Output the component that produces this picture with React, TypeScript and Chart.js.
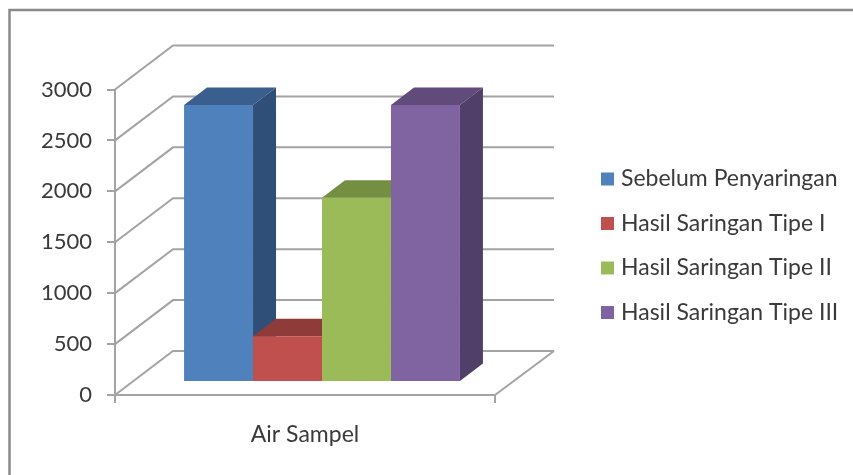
import React, { useEffect, useRef } from "react";
import { Chart, registerables } from "chart.js";

Chart.register(...registerables);

const categories = ["Air Sampel"];
const seriesNames = [
  "Sebelum Penyaringan",
  "Hasil Saringan Tipe I",
  "Hasil Saringan Tipe II",
  "Hasil Saringan Tipe III",
];
const sebelumPenyaringan = [2720];
const saringanTipeI = [450];
const saringanTipeII = [1810];
const saringanTipeIII = [2720];
const seriesValues = [sebelumPenyaringan, saringanTipeI, saringanTipeII, saringanTipeIII];

const frontColors = ["#4F81BD", "#C0504D", "#9BBB59", "#8064A2"];
const topColors = ["#3A5F8E", "#8F3B39", "#748E42", "#604B7A"];
const sideColors = ["#2F4F78", "#7A3230", "#627A38", "#503F68"];

const LINE = "#a3a3a3";
const TEXT = "#3a3a3a";
const AXIS_FONT = { family: "Lato", size: 22 };
const LABEL_FONT = { family: "Lato", size: 23 };

// Depth of the floor and walls behind the front axis plane
const WALL_DX = 58;
const WALL_DY = 44;
// Where the bars stand on the floor, and how deep they are
const BAR_SHIFT_X = 17;
const BAR_SHIFT_Y = 13;
const BAR_DX = 23;
const BAR_DY = 17.5;

const polygon = (ctx: CanvasRenderingContext2D, pts: number[][], fill?: string) => {
  ctx.beginPath();
  pts.forEach(([x, y], i) => (i ? ctx.lineTo(x, y) : ctx.moveTo(x, y)));
  if (fill) {
    ctx.fillStyle = fill;
    ctx.fill();
  } else {
    ctx.stroke();
  }
};

const frame = {
  id: "frame",
  beforeDraw(chart: any) {
    const { ctx, width, height } = chart;
    ctx.save();
    ctx.strokeStyle = "#8a8a8a";
    ctx.lineWidth = 2.5;
    polygon(ctx, [[9.5, height], [9.5, 10], [width, 10]]);
    ctx.restore();
  },
};

const walls = {
  id: "walls",
  beforeDatasetsDraw(chart: any) {
    const { ctx, chartArea, scales } = chart;
    const { left, right } = chartArea;
    const yScale = scales.y;
    ctx.save();
    ctx.strokeStyle = LINE;
    ctx.lineWidth = 2;
    yScale.ticks.forEach((tick: any) => {
      const y = yScale.getPixelForValue(tick.value);
      polygon(ctx, [
        [left, y],
        [left + WALL_DX, y - WALL_DY],
        [right + WALL_DX + 1, y - WALL_DY],
      ]);
    });
    const floor = yScale.getPixelForValue(0);
    polygon(ctx, [
      [right, floor],
      [right + WALL_DX + 1, floor - WALL_DY],
    ]);
    ctx.restore();
  },
};

// Side and top faces go under every front face; the fronts come from the bar elements.
const barDepth = {
  id: "barDepth",
  beforeDatasetsDraw(chart: any) {
    const { ctx } = chart;
    ctx.save();
    ctx.translate(BAR_SHIFT_X, -BAR_SHIFT_Y);
    seriesValues.forEach((_, i) => {
      chart.getDatasetMeta(i).data.forEach((bar: any) => {
        const { x, y, base, width } = bar.getProps(["x", "y", "base", "width"], true);
        const x0 = x - width / 2;
        const x1 = x + width / 2;
        polygon(
          ctx,
          [[x0, y], [x0 + BAR_DX, y - BAR_DY], [x1 + BAR_DX, y - BAR_DY], [x1, y]],
          topColors[i]
        );
        polygon(
          ctx,
          [[x1, y], [x1 + BAR_DX, y - BAR_DY], [x1 + BAR_DX, base - BAR_DY], [x1, base]],
          sideColors[i]
        );
      });
    });
  },
  afterDatasetsDraw(chart: any) {
    chart.ctx.restore();
  },
};

const legendPlacement = {
  id: "legendPlacement",
  afterLayout(chart: any) {
    const legend = chart.legend;
    legend.left = 584;
    legend.right = 853;
    legend.top = 146;
  },
};

export default function App() {
  const ref = useRef<HTMLCanvasElement>(null);

  useEffect(() => {
    const chart = new Chart(ref.current!, {
      type: "bar",
      data: {
        labels: categories,
        datasets: seriesNames.map((label, i) => ({
          label,
          data: seriesValues[i],
          backgroundColor: frontColors[i],
          borderWidth: 0,
          categoryPercentage: 0.726,
          barPercentage: 1,
          clip: false as any,
        })),
      },
      options: {
        animation: false,
        responsive: false,
        layout: { padding: { left: 0, top: 89.5, right: 158, bottom: 0 } },
        plugins: {
          tooltip: { enabled: false },
          legend: {
            position: "right",
            align: "start",
            maxWidth: 200,
            labels: {
              usePointStyle: true,
              pointStyle: "rect",
              boxWidth: 4,
              boxHeight: 13,
              padding: 21.5,
              color: TEXT,
              font: LABEL_FONT,
            },
          },
        },
        scales: {
          x: {
            grid: { color: LINE, lineWidth: 2, drawOnChartArea: false, tickLength: 8, offset: true },
            border: { color: LINE, width: 2 },
            ticks: { color: TEXT, font: LABEL_FONT, padding: 18 },
            afterFit: (s: any) => {
              s.height = 80;
            },
          },
          y: {
            min: 0,
            max: 3000,
            grid: { color: LINE, lineWidth: 2, drawOnChartArea: false, tickLength: 8 },
            border: { color: LINE, width: 2 },
            ticks: {
              stepSize: 500,
              color: TEXT,
              font: AXIS_FONT,
              padding: 15,
              callback: (value: any) => String(value),
            },
            afterFit: (s: any) => {
              s.width = 115;
            },
          },
        },
      },
      plugins: [frame, walls, barDepth, legendPlacement],
    });
    return () => chart.destroy();
  }, []);

  return (
    <div style={{ position: "absolute", left: 0, top: 0, width: 853, height: 475 }}>
      <canvas ref={ref} width={853} height={475} style={{ display: "block" }} />
    </div>
  );
}
